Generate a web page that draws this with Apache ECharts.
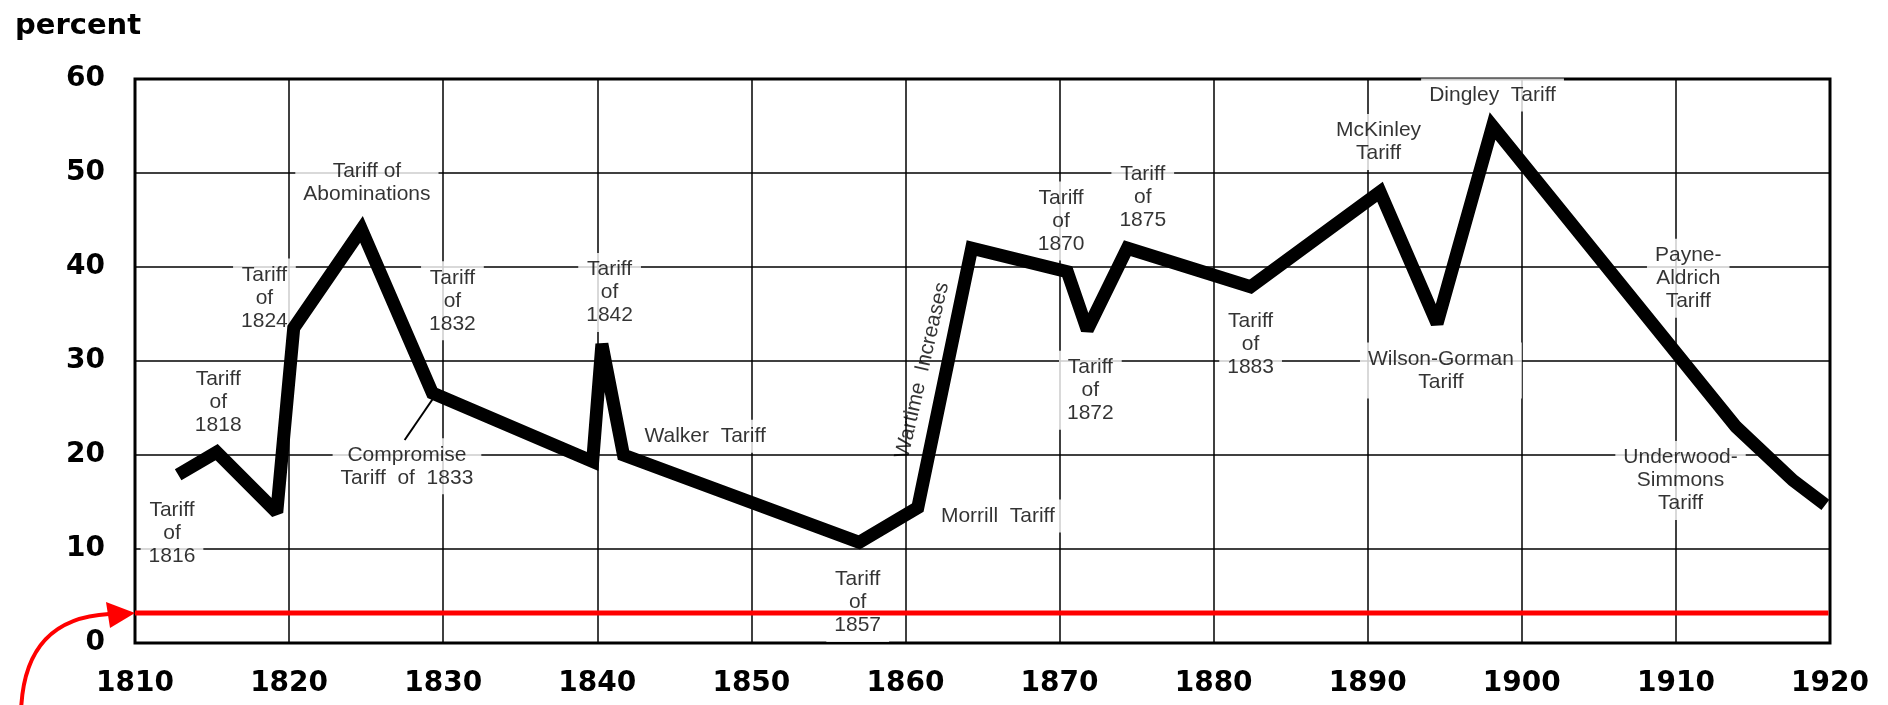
<!DOCTYPE html>
<html>
<head>
<meta charset="utf-8">
<script src="https://cdn.jsdelivr.net/npm/echarts@6/dist/echarts.min.js"></script>
<style>
html,body{margin:0;padding:0;background:#fff;}
#c{width:1888px;height:705px;}
</style>
</head>
<body>
<div id="c"></div>
<script>
// ---- data ----
const years = [1812.8, 1815.3, 1819.2, 1820.3, 1824.7, 1829.3, 1839.7, 1840.3, 1841.7, 1857.0, 1860.8, 1864.3, 1870.5, 1871.8, 1874.4, 1882.4, 1890.8, 1894.5, 1898.1, 1913.9, 1917.6, 1919.7];
const rates = [17.9, 20.3, 13.9, 33.5, 44.0, 26.6, 19.3, 31.8, 20.0, 10.7, 14.4, 42.0, 39.5, 33.3, 42.0, 37.9, 48.0, 34.0, 55.0, 23.0, 17.3, 14.7];

const yTicks = [0, 10, 20, 30, 40, 50, 60];
const xTicks = [1810, 1820, 1830, 1840, 1850, 1860, 1870, 1880, 1890, 1900, 1910, 1920];

const refLevel = 3.2;
const refYears = [1810, 1919.9];

const leaderYears = [1827.5, 1829.3];
const leaderRates = [21.6, 25.9];

const noteTexts = [
  'Tariff\nof\n1816', 'Tariff\nof\n1818', 'Tariff\nof\n1824', 'Tariff of\nAbominations',
  'Tariff\nof\n1832', 'Compromise\nTariff  of  1833', 'Tariff\nof\n1842', 'Walker  Tariff',
  'Tariff\nof\n1857', 'Wartime  Increases', 'Morrill  Tariff', 'Tariff\nof\n1870',
  'Tariff\nof\n1875', 'Tariff\nof\n1872', 'Tariff\nof\n1883', 'McKinley\nTariff',
  'Wilson-Gorman\nTariff', 'Dingley  Tariff', 'Payne-\nAldrich\nTariff', 'Underwood-\nSimmons\nTariff'
];
const noteYears = [1812.4, 1815.4, 1818.4, 1825.05, 1830.6, 1827.65, 1840.8, 1847.0, 1856.9, 1861.1, 1866.0, 1870.1, 1875.4, 1872.0, 1882.4, 1890.7, 1894.75, 1898.1, 1910.8, 1910.3];
const noteRates = [11.7, 25.6, 36.7, 49.0, 36.4, 18.8, 37.3, 22.0, 4.3, 29.0, 13.5, 44.9, 47.4, 26.9, 31.8, 53.3, 29.0, 58.3, 38.8, 17.3];
const noteRotate = [0, 0, 0, 0, 0, 0, 0, 0, 0, 77, 0, 0, 0, 0, 0, 0, 0, 0, 0, 0];

// ---- build ----
const lineData = years.map((y, i) => [y, rates[i]]);
const refData = refYears.map(y => [y, refLevel]);
const leaderData = leaderYears.map((y, i) => [y, leaderRates[i]]);
const noteData = noteTexts.map((t, i) => ({
  value: [noteYears[i], noteRates[i]],
  name: t,
  label: noteRotate[i] ? { rotate: noteRotate[i], backgroundColor: 'transparent' } : undefined
}));

const chart = echarts.init(document.getElementById('c'), null, { renderer: 'canvas' });
const tickFont = { fontFamily: 'DejaVu Sans', fontWeight: 'bold', fontSize: 28, color: '#000' };

chart.setOption({
  animation: false,
  backgroundColor: '#fff',
  grid: { left: 135, right: 58, top: 79, bottom: 62, show: true, borderColor: '#000', borderWidth: 3, backgroundColor: 'transparent' },
  xAxis: {
    type: 'value', min: xTicks[0], max: xTicks[xTicks.length - 1], interval: 10,
    axisLine: { show: false }, axisTick: { show: false },
    axisLabel: Object.assign({ margin: 27, formatter: v => String(v) }, tickFont),
    splitLine: { show: true, lineStyle: { color: '#000', width: 1.5 } }
  },
  yAxis: {
    type: 'value', min: yTicks[0], max: yTicks[yTicks.length - 1], interval: 10,
    axisLine: { show: false }, axisTick: { show: false },
    axisLabel: Object.assign({ margin: 30, formatter: v => String(v) }, tickFont),
    splitLine: { show: true, lineStyle: { color: '#000', width: 1.5 } }
  },
  series: [
    {
      type: 'scatter', z: 1, symbolSize: 0, data: noteData, silent: true,
      label: {
        show: true, position: 'inside', formatter: p => p.name,
        fontFamily: 'Liberation Sans', fontSize: 21, lineHeight: 23, color: '#000',
        textBorderWidth: 0, textBorderColor: 'transparent',
        align: 'center', verticalAlign: 'middle',
        backgroundColor: '#fff', padding: [5, 8]
      }
    },
    {
      type: 'line', z: 2, data: leaderData, symbol: 'none',
      lineStyle: { color: '#000', width: 2 }
    },
    {
      type: 'line', z: 3, data: lineData, symbol: 'none',
      lineStyle: { color: '#000', width: 13, join: 'miter', miterLimit: 2.2, cap: 'butt' }
    },
    {
      type: 'line', z: 4, data: refData, symbol: 'none',
      lineStyle: { color: '#ff0000', width: 5 }
    }
  ]
});

// annotations: title and arrow anchored to the reference line start
const tip = chart.convertToPixel({ gridIndex: 0 }, [refYears[0], refLevel]);
const tx = tip[0], ty = tip[1];
chart.setOption({
  graphic: [
    {
      type: 'text', left: 15, top: 12,
      style: { text: 'percent', font: 'bold 29px "DejaVu Sans"', fill: '#000' }
    },
    {
      type: 'bezierCurve', z: 10,
      shape: { x1: tx - 114, y1: ty + 99, cpx1: tx - 112, cpy1: ty + 35, cpx2: tx - 82, cpy2: ty + 4, x2: tx - 26, y2: ty + 1 },
      style: { stroke: '#ff0000', lineWidth: 4, fill: null }
    },
    {
      type: 'polygon', z: 10,
      shape: { points: [[tx, ty], [tx - 29, ty - 11], [tx - 25, ty + 15]] },
      style: { fill: '#ff0000' }
    }
  ]
});
</script>
</body>
</html>
